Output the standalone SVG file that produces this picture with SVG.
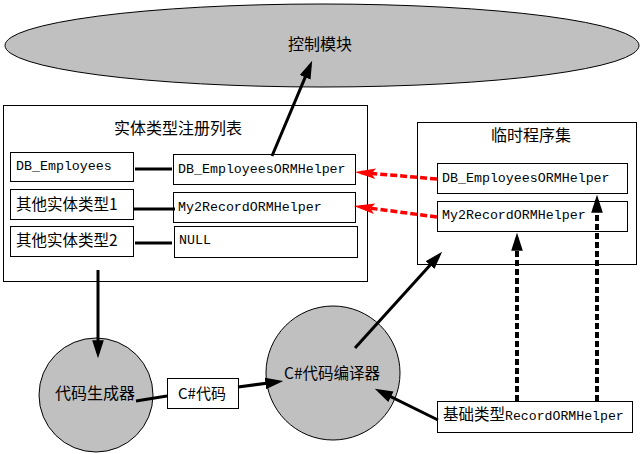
<svg xmlns="http://www.w3.org/2000/svg" width="643" height="454" viewBox="0 0 643 454">
<style>
.bg{fill:#ffffff}
.box{fill:#ffffff;stroke:#000000;stroke-width:1}
.node{fill:#c0c0c0;stroke:#000000;stroke-width:1}
.cjk{font-family:"Noto Sans CJK SC","Liberation Sans",sans-serif;font-size:16px;fill:#000000}
.mono{font-family:"Liberation Mono","Noto Sans CJK SC",monospace;font-size:13.3px;fill:#000000}
.ln{stroke:#000000;stroke-width:3;fill:none}
.dash{stroke:#000000;stroke-width:4;fill:none;stroke-dasharray:6 3}
.red{stroke:#ff0000;stroke-width:3.5;fill:none;stroke-dasharray:7 3}
</style>
<defs>
<marker id="ah" markerUnits="userSpaceOnUse" markerWidth="18" markerHeight="12" viewBox="0 0 17 11" refX="12" refY="5.5" orient="auto">
<path d="M0,0 L17,5.5 L0,11 z" fill="#000000"/>
</marker>
<marker id="ahr" markerUnits="userSpaceOnUse" markerWidth="21" markerHeight="11" viewBox="0 0 20 10" refX="14" refY="5" orient="auto">
<path d="M0,0 L20,5 L0,10 L4,5 z" fill="#ff0000"/>
</marker>
</defs>
<rect class="bg" x="0" y="0" width="643" height="454"/>

<g id="control">
<ellipse class="node" cx="322" cy="45.5" rx="317" ry="41.5"/>
<text class="cjk" x="320" y="50" text-anchor="middle">控制模块</text>
</g>

<g id="registry">
<rect class="box" x="3.5" y="105.5" width="364" height="176"/>
<text class="cjk" x="178" y="134" text-anchor="middle">实体类型注册列表</text>
</g>
<g id="e1"><rect class="box" x="10.5" y="152.5" width="123" height="29"/><text class="mono" x="16" y="170">DB_Employees</text></g>
<g id="e2"><rect class="box" x="10.5" y="189.5" width="123" height="30"/><text class="cjk" x="16" y="210" style="font-size:15.5px">其他实体类型1</text></g>
<g id="e3"><rect class="box" x="10.5" y="226.5" width="123" height="30"/><text class="cjk" x="16" y="246" style="font-size:15.5px">其他实体类型2</text></g>
<g id="h1"><rect class="box" x="173.5" y="154.5" width="182" height="30"/><text class="mono" x="178" y="173">DB_EmployeesORMHelper</text></g>
<g id="h2"><rect class="box" x="173.5" y="192.5" width="182" height="30"/><text class="mono" x="178" y="211">My2RecordORMHelper</text></g>
<g id="h3"><rect class="box" x="174.5" y="226.5" width="183" height="31"/><text class="mono" x="179" y="244">NULL</text></g>

<g id="temp">
<rect class="box" x="417.5" y="122.5" width="219" height="142"/>
<text class="cjk" x="531" y="141" text-anchor="middle">临时程序集</text>
</g>
<g id="t1"><rect class="box" x="437.5" y="163.5" width="190" height="30"/><text class="mono" x="442" y="182">DB_EmployeesORMHelper</text></g>
<g id="t2"><rect class="box" x="437.5" y="201.5" width="190" height="30"/><text class="mono" x="442" y="219">My2RecordORMHelper</text></g>

<g id="generator">
<circle class="node" cx="96" cy="395" r="57"/>
<text class="cjk" x="95" y="399" text-anchor="middle">代码生成器</text>
</g>
<g id="code">
<rect class="box" x="167.5" y="378.5" width="71" height="30"/>
<text class="cjk" x="202" y="399" text-anchor="middle" style="font-size:15px">C#代码</text>
</g>
<g id="compiler">
<circle class="node" cx="333" cy="373" r="67"/>
<text class="cjk" x="332" y="379" text-anchor="middle" style="font-size:15.5px">C#代码编译器</text>
</g>
<g id="base">
<rect class="box" x="437.5" y="401.5" width="195" height="31"/>
<text x="443" y="420"><tspan class="cjk" style="font-size:15.5px">基础类型</tspan><tspan class="mono" style="font-size:13.2px">RecordORMHelper</tspan></text>
</g>

<g id="connectors">
<line class="ln" x1="135" y1="169" x2="172" y2="169"/>
<line class="ln" x1="133" y1="209" x2="175" y2="209"/>
<line class="ln" x1="135" y1="243" x2="172" y2="243"/>
<line class="ln" x1="272" y1="156" x2="310.1" y2="65.6" marker-end="url(#ah)"/>
<line class="ln" x1="98" y1="270" x2="98" y2="353" marker-end="url(#ah)"/>
<line class="ln" x1="136" y1="401" x2="167" y2="396"/>
<line class="ln" x1="238" y1="387" x2="278" y2="381.7" marker-end="url(#ah)"/>
<line class="ln" x1="355" y1="348" x2="438.6" y2="255.7" marker-end="url(#ah)"/>
<line class="ln" x1="438" y1="420" x2="379.5" y2="391.2" marker-end="url(#ah)"/>
<line class="dash" x1="517" y1="401" x2="517" y2="238" marker-end="url(#ah)"/>
<line class="dash" x1="597" y1="401" x2="597" y2="200" marker-end="url(#ah)"/>
<line class="red" x1="437" y1="179" x2="361" y2="172.5" marker-end="url(#ahr)"/>
<line class="red" x1="437" y1="217" x2="360" y2="206.8" marker-end="url(#ahr)"/>
</g>
</svg>
